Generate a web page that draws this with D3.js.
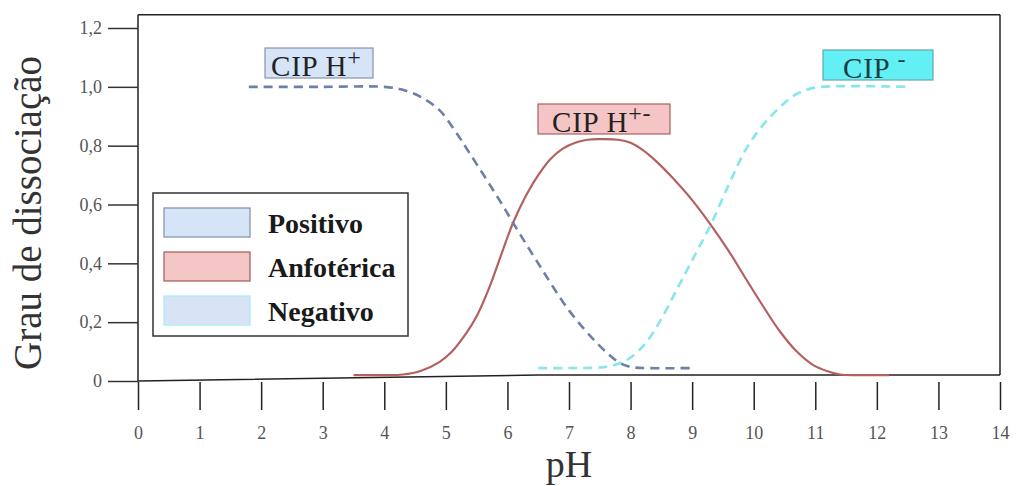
<!DOCTYPE html>
<html>
<head>
<meta charset="utf-8">
<script src="https://cdn.jsdelivr.net/npm/d3@7"></script>
<style>
  html, body { margin: 0; padding: 0; background: #fff; }
  svg { display: block; }
</style>
</head>
<body>
<svg id="chart" width="1019" height="486"></svg>
<script>
// Species distribution of ciprofloxacin vs pH
const xTickValues = [0, 1, 2, 3, 4, 5, 6, 7, 8, 9, 10, 11, 12, 13, 14];
const yTickValues = [0, 0.2, 0.4, 0.6, 0.8, 1.0, 1.2];
const yTickLabels = ["0", "0,2", "0,4", "0,6", "0,8", "1,0", "1,2"];

// Cationic form (CIP H+)
const posPH  = [1.8, 3.0, 4.0, 4.3, 4.6, 4.9, 5.15, 5.4, 5.9, 6.1, 6.5, 7.0, 7.45, 7.8, 8.0, 8.3, 9.0];
const posVal = [1.0, 1.0, 1.0, 0.99, 0.965, 0.92, 0.85, 0.77, 0.605, 0.535, 0.40, 0.24, 0.13, 0.065, 0.048, 0.044, 0.044];

// Zwitterionic form (CIP H+-)
const ampPH  = [3.5, 4.0, 4.3, 4.6, 4.9, 5.1, 5.34, 5.5, 5.71, 5.9, 6.09, 6.3, 6.5, 6.7, 6.9, 7.1, 7.3, 7.5, 7.8, 8.0, 8.2, 8.4, 8.64, 9.0, 9.34, 9.6, 9.88, 10.15, 10.42, 10.7, 10.96, 11.2, 11.4, 11.7, 12.2];
const ampVal = [0.02, 0.02, 0.022, 0.035, 0.065, 0.10, 0.165, 0.22, 0.32, 0.43, 0.537, 0.63, 0.70, 0.755, 0.79, 0.81, 0.82, 0.822, 0.82, 0.81, 0.785, 0.75, 0.70, 0.615, 0.52, 0.44, 0.345, 0.255, 0.17, 0.10, 0.055, 0.033, 0.022, 0.02, 0.02];

// Anionic form (CIP -)
const negPH  = [6.5, 7.0, 7.5, 7.75, 8.0, 8.25, 8.47, 8.7, 8.9, 9.1, 9.3, 9.6, 9.88, 10.15, 10.42, 10.65, 10.86, 11.1, 12.5];
const negVal = [0.044, 0.044, 0.046, 0.055, 0.08, 0.13, 0.20, 0.29, 0.37, 0.45, 0.53, 0.67, 0.79, 0.87, 0.93, 0.97, 0.99, 1.0, 1.0];

// Bottom edge of the plot frame
const basePH  = [0, 6.5, 14];
const baseVal = [0, 0.02, 0.02];

const legendNames = ["Positivo", "Anfotérica", "Negativo"];

const serif = "'Liberation Serif', 'Times New Roman', serif";
const svg = d3.select("#chart");

const x = d3.scaleLinear().domain([0, 14]).range([138, 1000]);
const y = d3.scaleLinear().domain([0, 1.2]).range([381, 28]);
const frameTop = y(1.245);

// Frame: top, right and left edges plus baseline
svg.append("line")
  .attr("x1", x(0)).attr("x2", x(14))
  .attr("y1", frameTop).attr("y2", frameTop)
  .attr("stroke", "#222").attr("stroke-width", 1.5);
svg.append("line")
  .attr("x1", x(14)).attr("x2", x(14))
  .attr("y1", frameTop).attr("y2", y(0.02))
  .attr("stroke", "#222").attr("stroke-width", 1.5);
svg.append("line")
  .attr("x1", x(0)).attr("x2", x(0))
  .attr("y1", frameTop).attr("y2", y(0))
  .attr("stroke", "#222").attr("stroke-width", 1.5);

const lineGen = d3.line()
  .x(d => x(d[0])).y(d => y(d[1]));
svg.append("path")
  .datum(basePH.map((p, i) => [p, baseVal[i]]))
  .attr("d", lineGen)
  .attr("fill", "none").attr("stroke", "#222").attr("stroke-width", 1.5);

// Axes
const yAxis = d3.axisLeft(y)
  .tickValues(yTickValues)
  .tickFormat((d, i) => yTickLabels[i])
  .tickSize(30).tickPadding(6);
const gy = svg.append("g").attr("transform", `translate(${x(0)},0)`).call(yAxis);
gy.select(".domain").remove();
gy.selectAll(".tick line").attr("stroke", "#333").attr("stroke-width", 1.5);
gy.selectAll(".tick text")
  .attr("font-family", serif).attr("font-size", 18).attr("fill", "#555");

const xAxis = d3.axisBottom(x)
  .tickValues(xTickValues)
  .tickFormat(d3.format("d"))
  .tickSize(28).tickPadding(16);
const gx = svg.append("g").attr("transform", `translate(0,${y(0) + 1})`).call(xAxis);
gx.select(".domain").remove();
gx.selectAll(".tick line").attr("stroke", "#222").attr("stroke-width", 1.5);
gx.selectAll(".tick text")
  .attr("font-family", serif).attr("font-size", 18).attr("fill", "#555");

// Axis titles
svg.append("text")
  .attr("transform", "translate(41,213) rotate(-90)")
  .attr("text-anchor", "middle")
  .attr("font-family", serif).attr("font-size", 39).attr("fill", "#333")
  .text("Grau de dissociação");
svg.append("text")
  .attr("x", 569).attr("y", 477)
  .attr("text-anchor", "middle")
  .attr("font-family", serif).attr("font-size", 38).attr("fill", "#333")
  .text("pH");

// Curves
const curve = d3.line()
  .x(d => x(d[0])).y(d => y(d[1]))
  .curve(d3.curveCatmullRom.alpha(0.5));

svg.append("path")
  .datum(ampPH.map((p, i) => [p, ampVal[i]]))
  .attr("d", curve)
  .attr("fill", "none").attr("stroke", "#b4615e").attr("stroke-width", 2.2);

svg.append("path")
  .datum(negPH.map((p, i) => [p, negVal[i]]))
  .attr("d", curve)
  .attr("fill", "none").attr("stroke", "#86e6ec").attr("stroke-width", 2.6)
  .attr("stroke-dasharray", "9,6");

svg.append("path")
  .datum(posPH.map((p, i) => [p, posVal[i]]))
  .attr("d", curve)
  .attr("fill", "none").attr("stroke", "#6e80a6").attr("stroke-width", 2.6)
  .attr("stroke-dasharray", "9,6");

// Species labels
function speciesLabel(bx, by, bw, bh, fill, stroke, base, sup, tx, textColor) {
  svg.append("rect")
    .attr("x", bx).attr("y", by).attr("width", bw).attr("height", bh)
    .attr("fill", fill).attr("stroke", stroke).attr("stroke-width", 1.2);
  const t = svg.append("text")
    .attr("x", tx).attr("y", by + bh - 2)
    .attr("font-family", serif).attr("font-size", 29).attr("fill", textColor)
    .attr("letter-spacing", 0.8);
  t.append("tspan").text(base);
  t.append("tspan").attr("dy", -11).attr("font-size", 24).text(sup);
}
speciesLabel(265, 48, 108, 30, "#d6e4f7", "#8595ae", "CIP H", "+", 271, "#222");
speciesLabel(538, 104, 132, 30, "#f4c5c4", "#a8625f", "CIP H", "+-", 552, "#222");
speciesLabel(823, 50, 110, 30, "#62f0f5", "#5fa7ad", "CIP ", "-", 843, "#1c3d40");

// Legend
const legend = svg.append("g");
legend.append("rect")
  .attr("x", 153).attr("y", 193).attr("width", 255).attr("height", 143)
  .attr("fill", "#fff").attr("stroke", "#333").attr("stroke-width", 1.5);
const swFill   = ["#d6e4f7", "#f4c7c7", "#d8e4f6"];
const swStroke = ["#8595ae", "#a8625f", "#a8eef4"];
legendNames.forEach((name, i) => {
  const top = 208 + i * 44;
  legend.append("rect")
    .attr("x", 164).attr("y", top).attr("width", 86).attr("height", 29)
    .attr("fill", swFill[i]).attr("stroke", swStroke[i]).attr("stroke-width", 1.3);
  legend.append("text")
    .attr("x", 268).attr("y", top + 25)
    .attr("font-family", serif).attr("font-size", 28).attr("font-weight", "bold")
    .attr("fill", "#1a1a1a")
    .text(name);
});
</script>
</body>
</html>
